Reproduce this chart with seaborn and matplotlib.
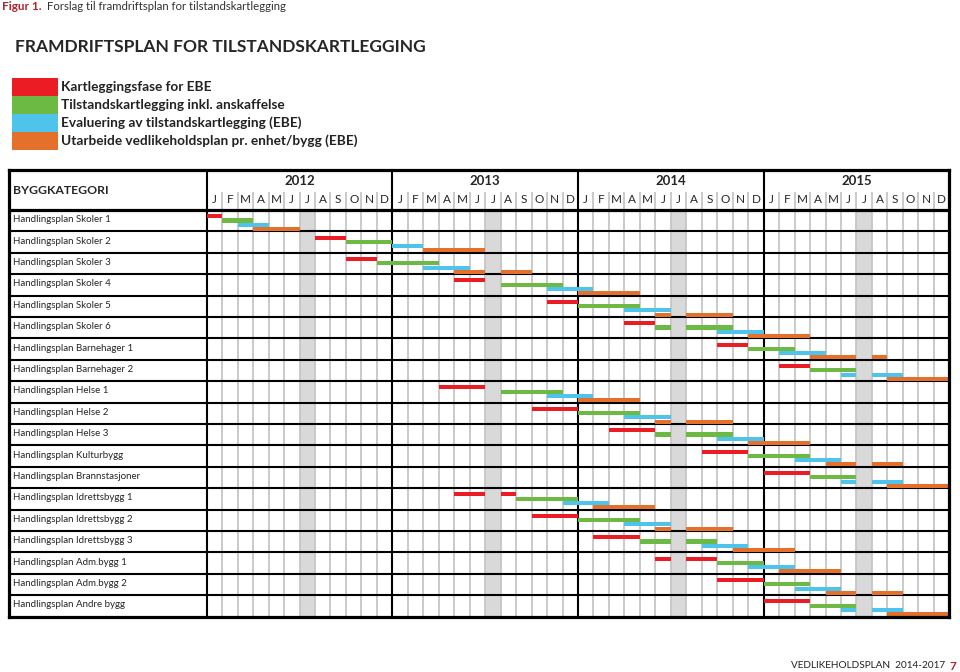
import matplotlib
matplotlib.use('Agg')
import matplotlib.pyplot as plt
from matplotlib.patches import Rectangle
import seaborn as sns
import pandas as pd
import numpy as np

# data
categories = ['Handlingsplan Skoler 1', 'Handlingsplan Skoler 2', 'Handlingsplan Skoler 3',
              'Handlingsplan Skoler 4', 'Handlingsplan Skoler 5', 'Handlingsplan Skoler 6',
              'Handlingsplan Barnehager 1', 'Handlingsplan Barnehager 2',
              'Handlingsplan Helse 1', 'Handlingsplan Helse 2', 'Handlingsplan Helse 3',
              'Handlingsplan Kulturbygg', 'Handlingsplan Brannstasjoner',
              'Handlingsplan Idrettsbygg 1', 'Handlingsplan Idrettsbygg 2', 'Handlingsplan Idrettsbygg 3',
              'Handlingsplan Adm.bygg 1', 'Handlingsplan Adm.bygg 2', 'Handlingsplan Andre bygg']
years = ['2012', '2013', '2014', '2015']
month_letters = ['J', 'F', 'M', 'A', 'M', 'J', 'J', 'A', 'S', 'O', 'N', 'D']
phases = ['Kartleggingsfase for EBE',
          'Tilstandskartlegging inkl. anskaffelse',
          'Evaluering av tilstandskartlegging (EBE)',
          'Utarbeide vedlikeholdsplan pr. enhet/bygg (EBE)']
phase_colors = ['#ec1c24', '#6cb944', '#4ec4ec', '#e4702c']

# (row, start month counted from Jan 2012, number of months)
kartlegging = [(0, 0, 1), (1, 7, 2), (2, 9, 2), (3, 16, 2), (4, 22, 2), (5, 27, 2), (6, 33, 2),
               (7, 37, 2), (8, 15, 3), (9, 21, 3), (10, 26, 3), (11, 32, 3), (12, 36, 3),
               (13, 16, 2), (13, 19, 1), (14, 21, 3), (15, 25, 3), (16, 29, 1), (16, 31, 2),
               (17, 33, 3), (18, 36, 3)]
tilstand = [(0, 1, 2), (1, 9, 3), (2, 11, 4), (3, 19, 4), (4, 24, 4), (5, 29, 1), (5, 31, 3),
            (6, 35, 3), (7, 39, 3), (8, 19, 4), (9, 24, 4), (10, 29, 1), (10, 31, 3), (11, 35, 4),
            (12, 39, 3), (13, 20, 4), (14, 24, 4), (15, 28, 2), (15, 31, 2), (16, 33, 3),
            (17, 36, 3), (18, 39, 3)]
evaluering = [(0, 2, 2), (1, 12, 2), (2, 14, 3), (3, 22, 3), (4, 27, 3), (5, 33, 3), (6, 37, 3),
              (7, 41, 1), (7, 43, 2), (8, 22, 3), (9, 27, 3), (10, 33, 3), (11, 38, 3),
              (12, 41, 1), (12, 43, 2), (13, 23, 3), (14, 27, 3), (15, 32, 3), (16, 35, 3),
              (17, 38, 3), (18, 41, 1), (18, 43, 2)]
vedlikehold = [(0, 3, 3), (1, 14, 4), (2, 16, 2), (2, 19, 2), (3, 24, 4), (4, 29, 1), (4, 31, 3),
               (5, 35, 4), (6, 39, 3), (6, 43, 1), (7, 44, 4), (8, 24, 4), (9, 29, 1), (9, 31, 3),
               (10, 35, 4), (11, 40, 2), (11, 43, 2), (12, 44, 4), (13, 25, 4), (14, 29, 1),
               (14, 31, 3), (15, 34, 4), (16, 37, 4), (17, 40, 2), (17, 43, 2), (18, 44, 4)]

frames = []
for i, segs in enumerate([kartlegging, tilstand, evaluering, vedlikehold]):
    d = pd.DataFrame(segs, columns=['row', 'start', 'months'])
    d['phase'] = i
    frames.append(d)
tasks = pd.concat(frames, ignore_index=True)

sns.set_theme(style='white')
plt.rcParams['font.family'] = ['Lato', 'DejaVu Sans']
palette = sns.color_palette(phase_colors)

W, H = 960, 672
fig = plt.figure(figsize=(9.6, 6.72), dpi=100)

# the whole table is one axes: x in months, y in rows
n_rows = len(categories)
n_months = 12 * len(years)
label_w = -12.78   # label column, in months
head_h = -1.87     # header, in rows
ax = fig.add_axes([9 / W, 1 - 616.6 / H, 940.3 / W, 446.6 / H])
ax.set_xlim(label_w, n_months)
ax.set_ylim(n_rows, head_h)
ax.set_xticks([])
ax.set_yticks([])
for s in ax.spines.values():
    s.set_linewidth(2.3)
    s.set_color('black')
    s.set_zorder(10)

# july shading
for y in range(len(years)):
    ax.axvspan(12 * y + 6, 12 * y + 7, ymin=0, ymax=n_rows / (n_rows - head_h),
               color='#d9d9d9', lw=0, zorder=0)

# month lines
for m in range(1, n_months):
    if m % 12 == 0:
        continue
    ax.plot([m, m], [-0.85, n_rows], color='#c6c6c6', lw=1.3, zorder=1, solid_capstyle='butt')
for y in range(len(years)):
    ax.plot([12 * y, 12 * y], [head_h, n_rows], color='black', lw=1.5, zorder=3)
for r in range(1, n_rows):
    ax.plot([label_w, n_months], [r, r], color='black', lw=1.5, zorder=3)
ax.plot([label_w, n_months], [0, 0], color='black', lw=2.3, zorder=3)

# bars
offsets = [0.29, 0.49, 0.69, 0.89]
for _, t in tasks.iterrows():
    p = int(t['phase'])
    ax.barh(t['row'] + offsets[p], t['months'], left=t['start'], height=0.19,
            color=palette[p], lw=0, zorder=4)

# header texts
for y, yr in enumerate(years):
    ax.text(12 * y + 6, -1.36, yr, ha='center', va='center', fontsize=9.5, fontweight='bold')
    for m, ml in enumerate(month_letters):
        ax.text(12 * y + m + 0.5, -0.47, ml, ha='center', va='center', fontsize=8.5)
ax.text(label_w + 0.26, -0.93, 'BYGGKATEGORI', ha='left', va='center', fontsize=8.8, fontweight='bold')
for r, c in enumerate(categories):
    ax.text(label_w + 0.26, r + 0.45, c, ha='left', va='center', fontsize=7)

# top texts
fig.text(2 / W, 1 - 7 / H, 'Figur 1.', color='#b0232f', fontsize=8.5, fontweight='bold', va='center')
fig.text(47 / W, 1 - 7 / H, 'Forslag til framdriftsplan for tilstandskartlegging', color='#333333',
         fontsize=8.2, va='center')
fig.text(15 / W, 1 - 47 / H, 'FRAMDRIFTSPLAN FOR TILSTANDSKARTLEGGING', fontsize=12.5,
         fontweight='bold', va='center')

# legend
for i, (ph, col) in enumerate(zip(phases, palette)):
    top = 78 + 18 * i
    fig.add_artist(Rectangle((12 / W, 1 - (top + 18) / H), 46 / W, 18 / H,
                             transform=fig.transFigure, color=col, lw=0))
    fig.text(61 / W, 1 - (top + 9) / H, ph, fontsize=9.8, fontweight='bold', va='center',
             color='#222222')

# footer
fig.text(945 / W, 1 - 666 / H, 'VEDLIKEHOLDSPLAN  2014-2017', ha='right', va='center',
         fontsize=7.2, color='#222222')
fig.text(950 / W, 1 - 666 / H, '7', ha='left', va='center', fontsize=8.5,
         fontweight='bold', color='#b0232f')

fig.savefig('out.png', dpi=100)
